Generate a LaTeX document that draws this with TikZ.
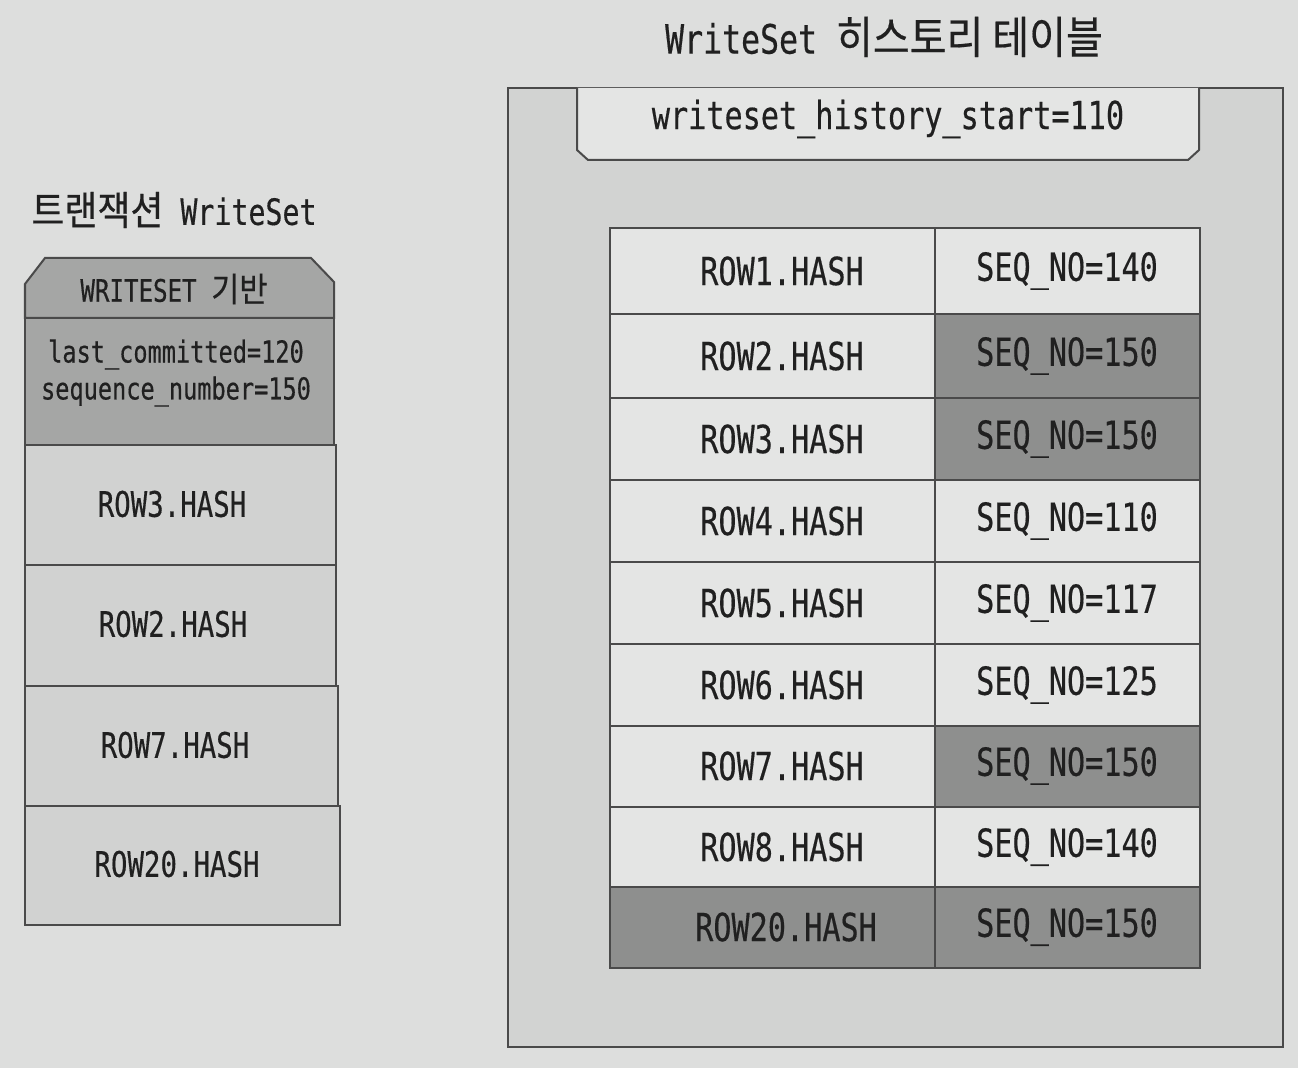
\documentclass[tikz,border=0pt]{standalone}
\usepackage{fontspec}
\setmonofont[FakeStretch=0.78, FakeBold=0.4]{DejaVu Sans Mono}
\newfontfamily\krfont[FakeStretch=0.9, Scale=1.1, FakeBold=0.4]{Noto Sans CJK KR}
\definecolor{paper}{HTML}{DDDEDD}
\definecolor{framefill}{HTML}{D2D3D2}
\definecolor{lightcell}{HTML}{E4E5E4}
\definecolor{darkcell}{HTML}{8E8F8E}
\definecolor{headcell}{HTML}{A5A6A5}
\definecolor{rowcell}{HTML}{D1D2D1}
\definecolor{ink}{HTML}{202020}
\definecolor{edge}{HTML}{4A4A4A}
\tikzset{
	txt/.style={text=ink, font=\ttfamily\fontsize{11}{13}\selectfont},
	smalltxt/.style={text=ink, font=\ttfamily\fontsize{10}{12}\selectfont},
	box/.style={draw=edge, line width=0.2mm}
}

\begin{document}
\begin{tikzpicture}[x=0.01cm, y=-0.01cm]
		%%%%% START %%%%%
		
		\fill[paper] (0, 0) rectangle (1298, 1068);
		\useasboundingbox (0, 0) rectangle (1298, 1068);
		
		\node[txt, font=\ttfamily\fontsize{11.5}{13}\selectfont] (histtitle) at (884, 37) {WriteSet {\krfont 히스토리 테이블}};
		\node[txt, font=\ttfamily\fontsize{10.3}{12}\selectfont] (txtitle) at (174, 210) {{\krfont 트랜잭션} WriteSet};
		
		\draw[box, fill=framefill] (508, 88) rectangle (1283, 1047);
		\draw[box, fill=lightcell] (577, 88) -- (577, 150) -- (588, 160) -- (1188, 160) -- (1199, 150) -- (1199, 88);
		\node[txt] (histstart) at (888, 119) {writeset\_history\_start=110};
		
		\draw[box, fill=lightcell] (610, 228) rectangle (935, 314);
		\draw[box, fill=lightcell] (935, 228) rectangle (1200, 314);
		\node[txt] (hash1) at (782, 271) {ROW1.HASH};
		\node[txt] (seq1) at (1067, 271) {SEQ\_NO=140};
		
		\draw[box, fill=lightcell] (610, 314) rectangle (935, 398);
		\draw[box, fill=darkcell] (935, 314) rectangle (1200, 398);
		\node[txt] (hash2) at (782, 356) {ROW2.HASH};
		\node[txt] (seq2) at (1067, 356) {SEQ\_NO=150};
		
		\draw[box, fill=lightcell] (610, 398) rectangle (935, 480);
		\draw[box, fill=darkcell] (935, 398) rectangle (1200, 480);
		\node[txt] (hash3) at (782, 439) {ROW3.HASH};
		\node[txt] (seq3) at (1067, 439) {SEQ\_NO=150};
		
		\draw[box, fill=lightcell] (610, 480) rectangle (935, 562);
		\draw[box, fill=lightcell] (935, 480) rectangle (1200, 562);
		\node[txt] (hash4) at (782, 521) {ROW4.HASH};
		\node[txt] (seq4) at (1067, 521) {SEQ\_NO=110};
		
		\draw[box, fill=lightcell] (610, 562) rectangle (935, 644);
		\draw[box, fill=lightcell] (935, 562) rectangle (1200, 644);
		\node[txt] (hash5) at (782, 603) {ROW5.HASH};
		\node[txt] (seq5) at (1067, 603) {SEQ\_NO=117};
		
		\draw[box, fill=lightcell] (610, 644) rectangle (935, 726);
		\draw[box, fill=lightcell] (935, 644) rectangle (1200, 726);
		\node[txt] (hash6) at (782, 685) {ROW6.HASH};
		\node[txt] (seq6) at (1067, 685) {SEQ\_NO=125};
		
		\draw[box, fill=lightcell] (610, 726) rectangle (935, 807);
		\draw[box, fill=darkcell] (935, 726) rectangle (1200, 807);
		\node[txt] (hash7) at (782, 766) {ROW7.HASH};
		\node[txt] (seq7) at (1067, 766) {SEQ\_NO=150};
		
		\draw[box, fill=lightcell] (610, 807) rectangle (935, 887);
		\draw[box, fill=lightcell] (935, 807) rectangle (1200, 887);
		\node[txt] (hash8) at (782, 847) {ROW8.HASH};
		\node[txt] (seq8) at (1067, 847) {SEQ\_NO=140};
		
		\draw[box, fill=darkcell] (610, 887) rectangle (935, 968);
		\draw[box, fill=darkcell] (935, 887) rectangle (1200, 968);
		\node[txt] (hash20) at (786, 927) {ROW20.HASH};
		\node[txt] (seq20) at (1067, 927) {SEQ\_NO=150};
		
		\draw[box, fill=headcell] (25, 318) -- (25, 284) -- (45, 258) -- (311, 258) -- (334, 282) -- (334, 318) -- cycle;
		\node[txt, font=\ttfamily\fontsize{8.8}{11}\selectfont] (basedon) at (174, 289) {WRITESET {\krfont 기반}};
		\draw[box, fill=headcell] (25, 318) rectangle (334, 445);
		\node[txt, align=center, font=\ttfamily\fontsize{8.6}{10.5}\selectfont] (meta) at (176, 373) {last\_committed=120\\sequence\_number=150};
		
		\draw[box, fill=rowcell] (25, 445) rectangle (336, 565);
		\node[smalltxt] (left3) at (172, 504) {ROW3.HASH};
		\draw[box, fill=rowcell] (25, 565) rectangle (336, 686);
		\node[smalltxt] (left2) at (173, 624) {ROW2.HASH};
		\draw[box, fill=rowcell] (25, 686) rectangle (338, 806);
		\node[smalltxt] (left7) at (175, 745) {ROW7.HASH};
		\draw[box, fill=rowcell] (25, 806) rectangle (340, 925);
		\node[smalltxt] (left20) at (177, 864) {ROW20.HASH};
		
		%%%%% END %%%%%
\end{tikzpicture}
\end{document}
